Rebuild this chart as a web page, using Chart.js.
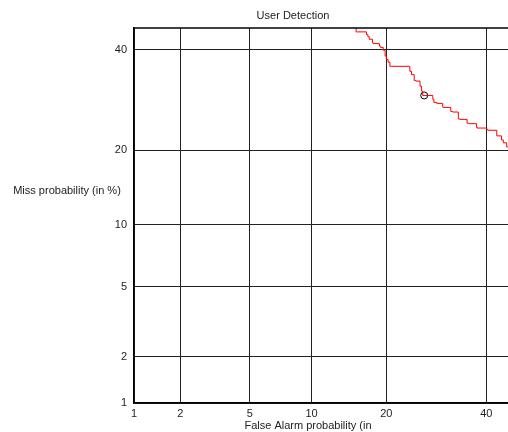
<!DOCTYPE html>
<html lang="en">
<head>
    <meta charset="UTF-8">
    <title>User Detection</title>
    <script src="https://cdn.jsdelivr.net/npm/chart.js"></script>
    <style>
        body {
            margin: 0;
            background: white;
            overflow: hidden;
        }
        canvas {
            display: block;
        }
    </style>
</head>
<body>
    <canvas id="detChart" width="508" height="432"></canvas>

    <script>
    // DET curve, values in percent
    const falseAlarm = [15.4, 15.6, 16.9, 17.1, 17.3, 17.8, 17.9, 18.9, 19.1, 19.5, 19.8, 20.0, 20.3, 20.6, 20.9,
        24.1, 24.4, 24.9, 25.2, 26.0, 26.3, 26.5, 26.8, 28.5, 28.7, 29.3, 30.5, 30.6, 32.2, 32.6, 33.8,
        34.1, 35.7, 36.0, 37.8, 37.9, 40.1, 40.4, 42.4, 43.5, 43.9, 44.7, 45.0];
    const missProb = [45.1, 44.1, 44.1, 43.5, 43.0, 42.4, 41.6, 41.4, 40.8, 40.5, 39.9, 38.6, 37.8, 37.2, 36.3,
        36.3, 35.2, 34.5, 33.2, 33.1, 32.0, 31.0, 30.1, 30.1, 29.3, 28.7, 28.5, 27.8, 27.7, 26.9, 26.8,
        25.5, 25.4, 24.7, 24.6, 24.0, 23.8, 23.5, 23.4, 22.4, 21.7, 21.2, 20.5];
    // operating point (circle)
    const opFalseAlarm = [26.8];
    const opMiss = [30.1];
    const tickPercents = [1, 2, 5, 10, 20, 40];
    const tickLabels = ['1', '2', '5', '10', '20', '40'];
    const axisMin = 1;
    const axisMax = 45;

    // inverse normal CDF (Acklam)
    function probit(p) {
        const a = [-3.969683028665376e+01, 2.209460984245205e+02, -2.759285104469687e+02, 1.383577518672690e+02, -3.066479806614716e+01, 2.506628277459239e+00];
        const b = [-5.447609879822406e+01, 1.615858368580409e+02, -1.556989798598866e+02, 6.680131188771972e+01, -1.328068155288572e+01];
        const c = [-7.784894002430293e-03, -3.223964580411365e-01, -2.400758277161838e+00, -2.549732539343734e+00, 4.374664141464968e+00, 2.938163982698783e+00];
        const d = [7.784695709041462e-03, 3.224671290700398e-01, 2.445134137142996e+00, 3.754408661907416e+00];
        const pl = 0.02425;
        let q, r;
        if (p < pl) {
            q = Math.sqrt(-2 * Math.log(p));
            return (((((c[0]*q+c[1])*q+c[2])*q+c[3])*q+c[4])*q+c[5]) / ((((d[0]*q+d[1])*q+d[2])*q+d[3])*q+1);
        } else if (p <= 1 - pl) {
            q = p - 0.5; r = q * q;
            return (((((a[0]*r+a[1])*r+a[2])*r+a[3])*r+a[4])*r+a[5])*q / (((((b[0]*r+b[1])*r+b[2])*r+b[3])*r+b[4])*r+1);
        }
        q = Math.sqrt(-2 * Math.log(1 - p));
        return -(((((c[0]*q+c[1])*q+c[2])*q+c[3])*q+c[4])*q+c[5]) / ((((d[0]*q+d[1])*q+d[2])*q+d[3])*q+1);
    }
    const pz = v => probit(v / 100);

    const font = { family: 'Liberation Sans, Arial, sans-serif', size: 11 };

    // title, axis captions and the top frame line
    const decorations = {
        id: 'decorations',
        afterDraw(chart) {
            const ctx = chart.ctx;
            const area = chart.chartArea;
            ctx.save();
            ctx.strokeStyle = '#000';
            ctx.lineWidth = 1.5;
            ctx.beginPath();
            ctx.moveTo(area.left, area.top);
            ctx.lineTo(area.right, area.top);
            ctx.stroke();
            ctx.fillStyle = '#222';
            ctx.font = '11px ' + font.family;
            ctx.textAlign = 'center';
            ctx.textBaseline = 'middle';
            ctx.fillText('User Detection', 293, 16);
            ctx.fillText('False Alarm probability (in', 308, 426);
            ctx.fillText('Miss probability (in %)', 67, 191);
            ctx.restore();
        }
    };

    const probitTicks = scale => {
        scale.ticks = tickPercents.map(p => ({ value: pz(p) }));
    };

    new Chart(document.getElementById('detChart'), {
        type: 'line',
        data: {
            datasets: [{
                data: falseAlarm.map((fa, i) => ({ x: pz(fa), y: pz(missProb[i]) })),
                borderColor: '#ff0000',
                borderWidth: 1,
                pointRadius: 0,
                stepped: 'after',
                fill: false
            }, {
                data: opFalseAlarm.map((fa, i) => ({ x: pz(fa), y: pz(opMiss[i]) })),
                showLine: false,
                pointRadius: 3.5,
                pointBorderWidth: 1,
                pointBorderColor: '#000',
                pointBackgroundColor: 'rgba(0,0,0,0)'
            }]
        },
        options: {
            responsive: false,
            maintainAspectRatio: false,
            animation: false,
            clip: true,
            layout: {
                autoPadding: false,
                padding: { top: 28, right: 0, left: 0, bottom: 0 }
            },
            plugins: {
                legend: { display: false },
                tooltip: { enabled: false }
            },
            scales: {
                x: {
                    type: 'linear',
                    min: pz(axisMin),
                    max: pz(axisMax),
                    afterBuildTicks: probitTicks,
                    afterFit: scale => {
                        scale.height = 29;
                        scale.paddingLeft = 0;
                        scale.paddingRight = 0;
                    },
                    ticks: {
                        color: '#222',
                        font: font,
                        padding: 4,
                        maxRotation: 0,
                        autoSkip: false,
                        callback: (v, i) => tickLabels[i]
                    },
                    grid: { color: '#222', lineWidth: 1, drawTicks: false },
                    border: { color: '#000', width: 1.5 }
                },
                y: {
                    type: 'linear',
                    min: pz(axisMin),
                    max: pz(axisMax),
                    afterBuildTicks: probitTicks,
                    afterFit: scale => {
                        scale.width = 134;
                        scale.paddingTop = 0;
                        scale.paddingBottom = 0;
                    },
                    ticks: {
                        color: '#222',
                        font: font,
                        padding: 7,
                        autoSkip: false,
                        callback: (v, i) => tickLabels[i]
                    },
                    grid: { color: '#222', lineWidth: 1, drawTicks: false },
                    border: { color: '#000', width: 1.5 }
                }
            }
        },
        plugins: [decorations]
    });
    </script>
</body>
</html>
